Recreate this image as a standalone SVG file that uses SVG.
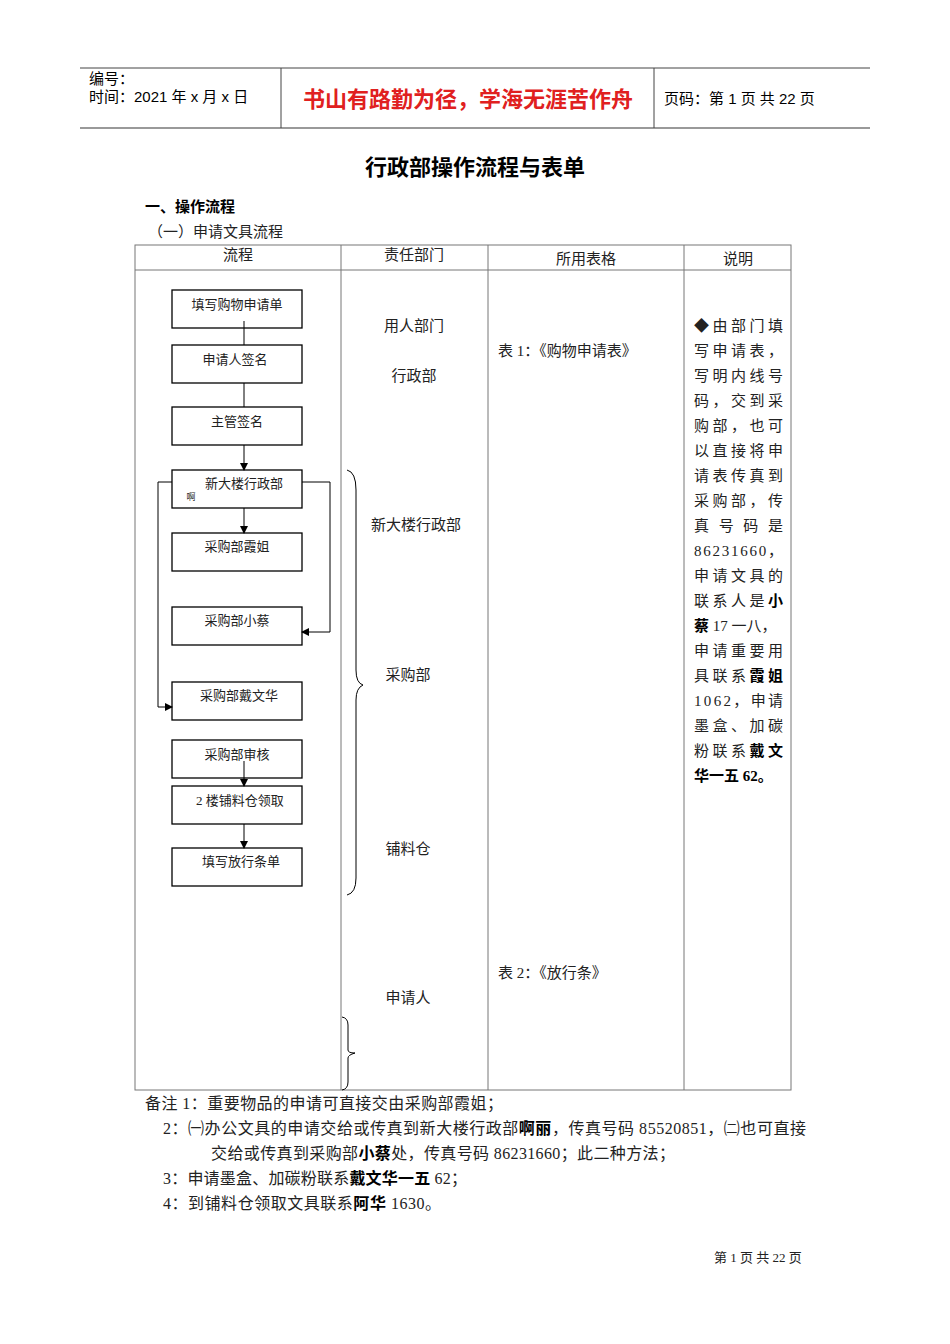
<svg xmlns="http://www.w3.org/2000/svg" width="950" height="1344" viewBox="0 0 950 1344">
<style>
.s{font-family:"Liberation Sans","Noto Sans CJK SC",sans-serif}
.r{font-family:"Liberation Serif","Noto Sans CJK SC",serif;fill:#222}
.b{fill:none;stroke:#000;stroke-width:1.3}
.l{fill:none;stroke:#000;stroke-width:1}
.g{fill:none;stroke:#777;stroke-width:1}
</style>
<defs><marker id="a" markerWidth="8" markerHeight="8" refX="7" refY="4" orient="auto" markerUnits="userSpaceOnUse"><path d="M0,0L8,4L0,8z" fill="#000"/></marker></defs>
<rect width="950" height="1344" fill="#fff"/>
<g id="header">
<line x1="80" y1="68" x2="870" y2="68" stroke="#444"/>
<line x1="80" y1="128" x2="870" y2="128" stroke="#777" stroke-width="1.5"/>
<line x1="281" y1="68" x2="281" y2="128" stroke="#444"/>
<line x1="654" y1="68" x2="654" y2="128" stroke="#444"/>
<text class="s" x="89" y="84" font-size="15">编号：</text>
<text class="s" x="89" y="102" font-size="15">时间：2021 年 x 月 x 日</text>
<text class="s" x="468" y="107" font-size="22" fill="#e02020" font-weight="bold" text-anchor="middle">书山有路勤为径，学海无涯苦作舟</text>
<text class="s" x="664" y="104" font-size="15">页码：第 1 页 共 22 页</text>
</g>
<text class="s" x="475" y="175" font-size="22" text-anchor="middle" font-weight="bold">行政部操作流程与表单</text>
<text class="s" x="145" y="212" font-size="15" font-weight="bold">一、操作流程</text>
<text class="r" x="148" y="237" font-size="15">（一）申请文具流程</text>
<g id="table">
<rect x="135" y="245" width="656" height="845" class="g"/>
<line x1="135" y1="270" x2="791" y2="270" class="g"/>
<line x1="341" y1="245" x2="341" y2="1090" class="g"/>
<line x1="488" y1="245" x2="488" y2="1090" class="g"/>
<line x1="684" y1="245" x2="684" y2="1090" class="g"/>
<text class="r" x="238" y="260" font-size="15" text-anchor="middle">流程</text>
<text class="r" x="414" y="260" font-size="15" text-anchor="middle">责任部门</text>
<text class="r" x="586" y="264" font-size="15" text-anchor="middle">所用表格</text>
<text class="r" x="738" y="264" font-size="15" text-anchor="middle">说明</text>
</g>
<g id="depts" class="r" font-size="15" text-anchor="middle">
<text x="414" y="331">用人部门</text>
<text x="414" y="381">行政部</text>
<text x="416" y="530">新大楼行政部</text>
<text x="408" y="680">采购部</text>
<text x="408" y="854">铺料仓</text>
<text x="408" y="1003">申请人</text>
</g>
<g id="forms" class="r" font-size="15">
<text x="498" y="356">表 1：《购物申请表》</text>
<text x="498" y="978">表 2：《放行条》</text>
</g>
<g id="braces" class="l">
<path d="M347,470 Q356,472 356,490 L356,670 Q356,683 363,685 Q356,688 356,700 L356,878 Q356,893 347,895"/>
<path d="M342,1017 Q348,1018 348,1025 L348,1050 Q348,1053 355,1053 Q348,1055 348,1058 L348,1082 Q348,1089 342,1090"/>
</g>
<g id="note" class="r" font-size="15">
<text x="694" y="331" textLength="89" lengthAdjust="spacing">◆由部门填</text>
<text x="694" y="356" textLength="89" lengthAdjust="spacing">写申请表，</text>
<text x="694" y="381" textLength="89" lengthAdjust="spacing">写明内线号</text>
<text x="694" y="406" textLength="89" lengthAdjust="spacing">码，交到采</text>
<text x="694" y="431" textLength="89" lengthAdjust="spacing">购部，也可</text>
<text x="694" y="456" textLength="89" lengthAdjust="spacing">以直接将申</text>
<text x="694" y="481" textLength="89" lengthAdjust="spacing">请表传真到</text>
<text x="694" y="506" textLength="89" lengthAdjust="spacing">采购部，传</text>
<text x="694" y="531" textLength="89" lengthAdjust="spacing">真 号 码 是</text>
<text x="694" y="556" textLength="89" lengthAdjust="spacing">86231660，</text>
<text x="694" y="581" textLength="89" lengthAdjust="spacing">申请文具的</text>
<text x="694" y="606" textLength="89" lengthAdjust="spacing">联系人是<tspan font-weight="bold" fill="#000">小</tspan></text>
<text x="694" y="631"><tspan font-weight="bold" fill="#000">蔡</tspan> 17 一八，</text>
<text x="694" y="656" textLength="89" lengthAdjust="spacing">申请重要用</text>
<text x="694" y="681" textLength="89" lengthAdjust="spacing">具联系<tspan font-weight="bold" fill="#000">霞姐</tspan></text>
<text x="694" y="706" textLength="89" lengthAdjust="spacing">1062，申请</text>
<text x="694" y="731" textLength="89" lengthAdjust="spacing">墨盒、加碳</text>
<text x="694" y="756" textLength="89" lengthAdjust="spacing">粉联系<tspan font-weight="bold" fill="#000">戴文</tspan></text>
<text x="694" y="781" font-weight="bold" fill="#000">华一五 62。</text>
</g>
<g id="connectors" class="l">
<line x1="244" y1="321" x2="244" y2="345"/>
<line x1="244" y1="383" x2="244" y2="407"/>
<line x1="244" y1="445" x2="244" y2="470" marker-end="url(#a)"/>
<line x1="244" y1="508" x2="244" y2="533" marker-end="url(#a)"/>
<polyline points="302,482 330,482 330,632 302,632" marker-end="url(#a)"/>
<polyline points="172,482 158,482 158,707 172,707" marker-end="url(#a)"/>
<line x1="244" y1="761" x2="244" y2="786" marker-end="url(#a)"/>
<line x1="244" y1="824" x2="244" y2="848" marker-end="url(#a)"/>
</g>
<g class="r" font-size="13" text-anchor="middle">
<g id="n1"><rect x="172" y="290" width="130" height="38" class="b"/><text x="237" y="309">填写购物申请单</text></g>
<g id="n2"><rect x="172" y="345" width="130" height="38" class="b"/><text x="235" y="364">申请人签名</text></g>
<g id="n3"><rect x="172" y="407" width="130" height="38" class="b"/><text x="237" y="426">主管签名</text></g>
<g id="n4"><rect x="172" y="470" width="130" height="38" class="b"/><text x="244" y="488">新大楼行政部</text><text x="191" y="500" font-size="9">啊</text></g>
<g id="n5"><rect x="172" y="533" width="130" height="38" class="b"/><text x="237" y="551">采购部霞姐</text></g>
<g id="n6"><rect x="172" y="607" width="130" height="38" class="b"/><text x="237" y="625">采购部小蔡</text></g>
<g id="n7"><rect x="172" y="682" width="130" height="38" class="b"/><text x="239" y="700">采购部戴文华</text></g>
<g id="n8"><rect x="172" y="740" width="130" height="38" class="b"/><text x="237" y="759">采购部审核</text></g>
<g id="n9"><rect x="172" y="786" width="130" height="38" class="b"/><text x="240" y="805">2 楼铺料仓领取</text></g>
<g id="n10"><rect x="172" y="848" width="130" height="38" class="b"/><text x="241" y="866">填写放行条单</text></g>
</g>
<g id="remarks" class="r" font-size="16">
<text x="145" y="1109" textLength="358" lengthAdjust="spacing">备注 1：重要物品的申请可直接交由采购部霞姐；</text>
<text x="163" y="1134" textLength="643" lengthAdjust="spacing">2：㈠办公文具的申请交给或传真到新大楼行政部<tspan font-weight="bold" fill="#000">啊丽</tspan>，传真号码 85520851，㈡也可直接</text>
<text x="211" y="1159" textLength="464" lengthAdjust="spacing">交给或传真到采购部<tspan font-weight="bold" fill="#000">小蔡</tspan>处，传真号码 86231660；此二种方法；</text>
<text x="163" y="1184" textLength="304" lengthAdjust="spacing">3：申请墨盒、加碳粉联系<tspan font-weight="bold" fill="#000">戴文华一五</tspan> 62；</text>
<text x="163" y="1209" textLength="278" lengthAdjust="spacing">4：到铺料仓领取文具联系<tspan font-weight="bold" fill="#000">阿华</tspan> 1630。</text>
</g>
<text class="r" x="758" y="1262" font-size="13" text-anchor="middle">第 1 页 共 22 页</text>
</svg>
